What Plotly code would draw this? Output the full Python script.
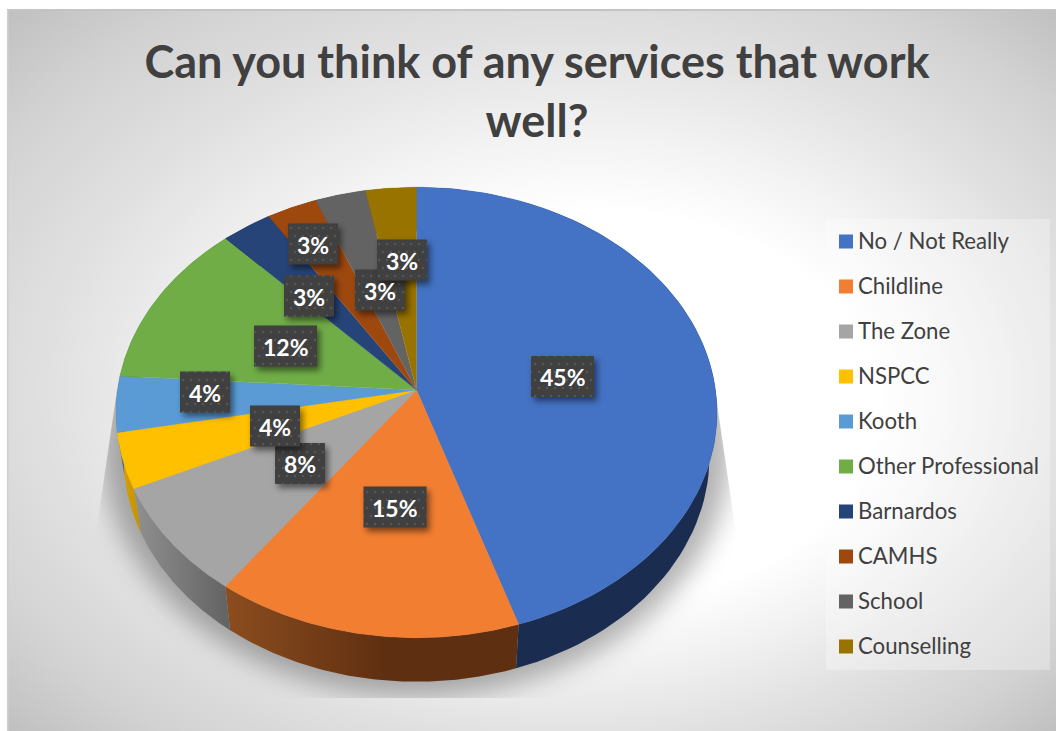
import base64
import numpy as np
import plotly.graph_objects as go

# Survey responses
categories = ["No / Not Really", "Childline", "The Zone", "NSPCC", "Kooth",
              "Other Professional", "Barnardos", "CAMHS", "School", "Counselling"]
percentages = [45, 15, 8, 4, 4, 12, 3, 3, 3, 3]
slice_colors = ["#4472C4", "#F27E32", "#A5A5A5", "#FFC000", "#5B9BD5",
                "#70AD47", "#264478", "#9E480E", "#636363", "#997300"]
wall_scales = [
    [[0, "#1A2C50"], [1, "#1A2C50"]],
    [[0, "#8C4D1E"], [0.55, "#5F2F11"], [1, "#5F2F11"]],
    [[0, "#909090"], [1, "#626262"]],
    [[0, "#D9A300"], [1, "#C49200"]],
    [[0, "#3A6A96"], [1, "#3A6A96"]],
    [[0, "#4C7630"], [1, "#4C7630"]],
    [[0, "#16294A"], [1, "#16294A"]],
    [[0, "#6A3009"], [1, "#6A3009"]],
    [[0, "#444444"], [1, "#444444"]],
    [[0, "#664C00"], [1, "#664C00"]],
]

W, H = 1056, 731
TEXT = "#404040"
FONT = "Lato"

# Tilted disc: perspective projection of the unit circle onto page pixels
CX, CY, RX, RY, PERSP = 416.5, 390.0, 299.0, 223.0, 0.0998
DEPTH, BASE_SHRINK = 44.0, 0.975


def top_edge(frac):
    theta = 2 * np.pi * np.asarray(frac, dtype=float)
    scale = 1 / (1 + PERSP * np.cos(theta))
    return CX + RX * np.sin(theta) * scale, CY - RY * np.cos(theta) * scale


def base_edge(frac):
    x, y = top_edge(frac)
    return CX + BASE_SHRINK * (x - CX), y + DEPTH


fig = go.Figure()
total = sum(percentages)
edges = np.cumsum([0] + percentages) / total

# Outer walls go first so the top faces cover everything but the front rim
for name, start, end, scale in zip(categories, edges[:-1], edges[1:], wall_scales):
    arc = np.linspace(start, end, 80)
    tx, ty = top_edge(arc)
    bx, by = base_edge(arc[::-1])
    fig.add_trace(go.Scatter(
        x=np.r_[tx, bx], y=np.r_[ty, by], mode="lines", line=dict(width=0),
        fill="toself", fillgradient=dict(type="horizontal", colorscale=scale),
        hoverinfo="skip", showlegend=False))

for name, value, start, end, color in zip(categories, percentages, edges[:-1], edges[1:], slice_colors):
    tx, ty = top_edge(np.linspace(start, end, 120))
    fig.add_trace(go.Scatter(
        x=np.r_[CX, tx], y=np.r_[CY, ty], mode="lines", line=dict(width=0.4, color=color),
        fill="toself", fillcolor=color, name=name, text=f"{value}%",
        hoverinfo="name+text", showlegend=False))

# Key on the right: square swatches with their names beside them
legend_rows = [241.5 + 45 * i for i in range(len(categories))]
fig.add_trace(go.Scatter(
    x=[846] * len(categories), y=legend_rows, mode="markers",
    marker=dict(symbol="square", size=14, color=slice_colors),
    hoverinfo="skip", showlegend=False))
fig.add_trace(go.Scatter(
    x=[858] * len(categories), y=[row + 2 for row in legend_rows], mode="text",
    text=categories, textposition="middle right",
    textfont=dict(family=FONT, size=22.2, color=TEXT),
    hoverinfo="skip", showlegend=False))

# Percentage tags: (centre x, centre y) per slice
tag_centres = [(562.5, 376.5), (395, 507), (300, 463.5), (275, 426), (205, 392),
               (285.5, 346), (309, 296), (313, 244), (380, 290), (402, 260)]
tag_h = 41


def tag_width(value):
    return 63 if value >= 10 else 50


# Soft backdrop: page gradient plus the disc's clipped drop shadow
background_svg = f"""<svg xmlns="http://www.w3.org/2000/svg" width="{W}" height="{H}" viewBox="0 0 {W} {H}">
<defs>
<radialGradient id="bg" cx="0.5" cy="0.5" r="0.707" fx="0.6" fy="0.58">
<stop offset="0" stop-color="#ffffff"/><stop offset="0.38" stop-color="#ffffff"/>
<stop offset="0.50" stop-color="#f4f4f4"/><stop offset="0.70" stop-color="#e0e0e0"/>
<stop offset="0.86" stop-color="#d2d2d2"/><stop offset="1" stop-color="#c0c0c0"/>
</radialGradient>
<filter id="soft" x="-20%" y="-20%" width="140%" height="140%"><feGaussianBlur stdDeviation="13"/></filter>
<clipPath id="cast"><polygon points="117,390 715,390 737,540 737,698 95,698 95,540"/></clipPath>
</defs>
<rect x="7" y="10" width="{W-7}" height="{H-10}" fill="url(#bg)"/>
<rect x="7" y="9" width="{W-7}" height="2" fill="#c4c4c4"/>
<rect x="7" y="10" width="1.5" height="{H-10}" fill="#cfcfcf"/>
<g clip-path="url(#cast)"><ellipse cx="{CX}" cy="447" rx="314" ry="249" fill="#000" fill-opacity="0.30" filter="url(#soft)"/></g>
</svg>"""

# Dark tags with a dotted texture and a small drop shadow
boxes = []
for (cx, cy), value in zip(tag_centres, percentages):
    w = tag_width(value)
    x0, y0 = cx - w / 2, cy - tag_h / 2
    boxes.append(
        f'<rect x="{x0+3}" y="{y0+4}" width="{w}" height="{tag_h}" fill="#000" fill-opacity="0.5" filter="url(#tagblur)"/>'
        f'<rect x="{x0}" y="{y0}" width="{w}" height="{tag_h}" fill="url(#dots)"/>')
tags_svg = f"""<svg xmlns="http://www.w3.org/2000/svg" width="{W}" height="{H}" viewBox="0 0 {W} {H}">
<defs>
<pattern id="dots" width="16" height="16" patternUnits="userSpaceOnUse">
<rect width="16" height="16" fill="#404040"/>
<circle cx="3" cy="4" r="1.2" fill="#565656"/><circle cx="11" cy="4" r="1.2" fill="#565656"/>
<circle cx="7" cy="12" r="1.2" fill="#565656"/><circle cx="15" cy="12" r="1.2" fill="#565656"/>
</pattern>
<filter id="tagblur" x="-30%" y="-30%" width="160%" height="160%"><feGaussianBlur stdDeviation="3"/></filter>
</defs>
{''.join(boxes)}
</svg>"""


def svg_uri(svg):
    return "data:image/svg+xml;base64," + base64.b64encode(svg.encode()).decode()


full_page = dict(xref="paper", yref="paper", x=0, y=1, sizex=1, sizey=1,
                 xanchor="left", yanchor="top", sizing="stretch")

annotations = [
    dict(x=cx, y=cy + 0.5, xref="x", yref="y", text=f"<b>{value}%</b>", showarrow=False,
         font=dict(family=FONT, size=23, color="#FFFFFF"))
    for (cx, cy), value in zip(tag_centres, percentages)
]

fig.update_layout(
    width=W, height=H, margin=dict(l=0, r=0, t=0, b=0),
    paper_bgcolor="#FFFFFF", plot_bgcolor="rgba(0,0,0,0)",
    xaxis=dict(range=[0, W], visible=False, fixedrange=True),
    yaxis=dict(range=[H, 0], visible=False, fixedrange=True),
    title=dict(text="<b>Can you think of any services that work<br>well?</b>",
               x=0.5085, xanchor="center", y=0.893, yanchor="top",
               font=dict(family=FONT, size=45, color=TEXT)),
    images=[dict(source=svg_uri(background_svg), layer="below", **full_page),
            dict(source=svg_uri(tags_svg), layer="above", **full_page)],
    shapes=[dict(type="rect", xref="x", yref="y", x0=826, x1=1050, y0=219, y1=670,
                 fillcolor="rgba(255,255,255,0.3)", line=dict(width=0), layer="below")],
    annotations=annotations,
    showlegend=False,
)

fig.write_html("out.html")
